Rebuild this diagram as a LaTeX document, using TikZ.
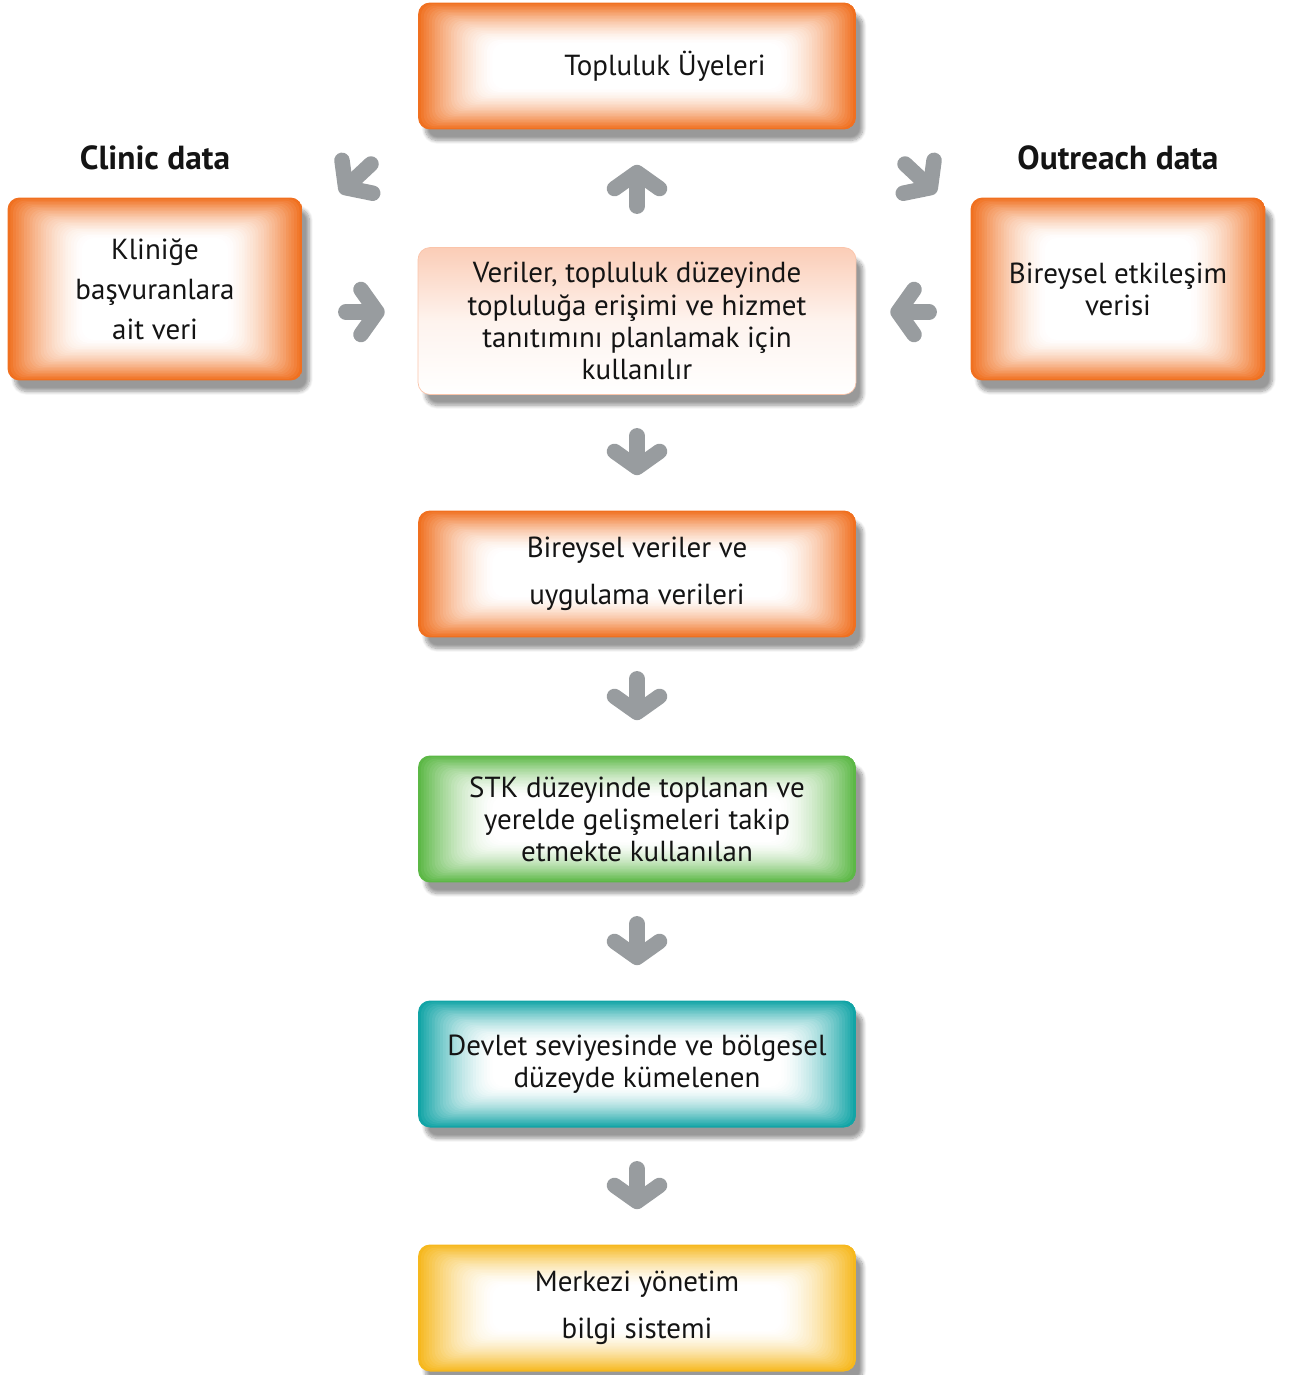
\documentclass[tikz,border=0pt]{standalone}
\usepackage{fontspec}
\setmainfont{PT Sans}
\usetikzlibrary{arrows.meta,positioning,shadows.blur}
\definecolor{glorange}{RGB}{240,112,32}
\definecolor{glpeach}{RGB}{250,196,170}
\definecolor{glgreen}{RGB}{92,184,70}
\definecolor{glteal}{RGB}{18,164,166}
\definecolor{glyellow}{RGB}{246,184,30}
\definecolor{arrowgray}{RGB}{152,156,159}
\definecolor{txtblack}{RGB}{20,20,20}
\tikzset{
  boxshadow/.style={blur shadow={shadow xshift=0.14cm, shadow yshift=-0.22cm, shadow opacity=40, shadow blur steps=10}},
  glowbox/.style={rounded corners=0.24cm, minimum width=8.76cm, minimum height=2.54cm,
    align=center, text=txtblack, font=\fontsize{16.5}{18.3}\selectfont, boxshadow,
    path picture={
      \foreach \i [evaluate=\i as \p using int(100*(1-\i/28)^1.6)] in {0,...,28}
        \fill[#1!\p!white, rounded corners=0.24cm]
          ([shift={(\i*0.055cm,-\i*0.03cm)}]path picture bounding box.north west) rectangle
          ([shift={(-\i*0.055cm,\i*0.03cm)}]path picture bounding box.south east);
    }},
  softbox/.style={rounded corners=0.24cm, minimum width=8.76cm, minimum height=2.94cm,
    align=center, text=txtblack, font=\fontsize{16.5}{18.3}\selectfont, boxshadow,
    draw=glpeach, thin, top color=glpeach!85, bottom color=white, middle color=glpeach!20},
  sidebox/.style={glowbox=glorange, minimum width=5.9cm, minimum height=3.66cm},
  title/.style={font=\fontsize{19}{21}\selectfont\bfseries, text=txtblack},
  bigarrow/.style={draw=arrowgray, line width=0.31cm, line cap=round,
    -{Straight Barb[round, length=0.32cm, width=0.9cm]}},
}
\begin{document}
\begin{tikzpicture}[x=0.02cm, y=-0.02cm]
  \useasboundingbox (0,0) rectangle (1296,1375);
  % main column
  \node[glowbox=glorange] (top) at (637,66) {\hspace*{1.12cm}Topluluk Üyeleri};
  \node[softbox] (veri) at (637,321) {Veriler, topluluk düzeyinde\\topluluğa erişimi ve hizmet\\tanıtımını planlamak için\\kullanılır};
  \node[glowbox=glorange] (birey) at (637,574) {Bireysel veriler ve\\[8.5pt]uygulama verileri};
  \node[glowbox=glgreen] (stk) at (637,819) {STK düzeyinde toplanan ve\\yerelde gelişmeleri takip\\etmekte kullanılan};
  \node[glowbox=glteal] (devlet) at (637,1064) {Devlet seviyesinde ve bölgesel\\düzeyde kümelenen};
  \node[glowbox=glyellow] (merkez) at (637,1308) {Merkezi yönetim\\[8.5pt]bilgi sistemi};
  % side boxes
  \node[sidebox] (clinic) at (155,289) {Kliniğe\\[4.5pt]başvuranlara\\[4.5pt]ait veri};
  \node[sidebox] (outreach) at (1118,289) {Bireysel etkileşim\\verisi};
  \node[title] (clinictitle) at (155,158) {Clinic data};
  \node[title] (outreachtitle) at (1118,158) {Outreach data};
  % arrows
  \coordinate (hmid) at (0,312);
  \coordinate (dl-a) at (371,164);
  \coordinate (dl-b) at (340,193);
  \coordinate (dr-a) at (905,164);
  \coordinate (dr-b) at (936,193);
  \draw[bigarrow, shorten <=0.82cm, shorten >=0.7cm] (veri) -- (top);
  \draw[bigarrow, shorten <=0.82cm, shorten >=0.7cm] (veri) -- (birey);
  \draw[bigarrow, shorten <=0.82cm, shorten >=0.7cm] (birey) -- (stk);
  \draw[bigarrow, shorten <=0.82cm, shorten >=0.7cm] (stk) -- (devlet);
  \draw[bigarrow, shorten <=0.82cm, shorten >=0.7cm] (devlet) -- (merkez);
  \draw[bigarrow, shorten <=0.86cm, shorten >=0.66cm] (clinic.east |- hmid) -- (veri.west |- hmid);
  \draw[bigarrow, shorten <=0.82cm, shorten >=0.68cm] (outreach.west |- hmid) -- (veri.east |- hmid);
  \draw[bigarrow] (dl-a) -- (dl-b);
  \draw[bigarrow] (dr-a) -- (dr-b);
\end{tikzpicture}
\end{document}
